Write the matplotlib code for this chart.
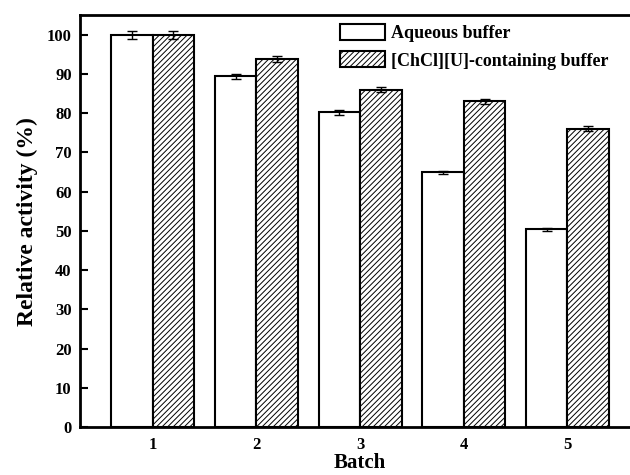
import numpy as np
import matplotlib.pyplot as plt

plt.rcParams['font.family'] = ['Liberation Serif', 'DejaVu Serif']
plt.rcParams['font.weight'] = 'bold'
plt.rcParams['hatch.linewidth'] = 0.7

# datos
lotes = ['1', '2', '3', '4', '5']
acuoso = [100.0, 89.4, 80.2, 65.0, 50.4]
acuoso_err = [1.0, 0.7, 0.7, 0.4, 0.3]
chcl = [100.0, 93.8, 86.0, 83.0, 76.1]
chcl_err = [1.0, 0.8, 0.7, 0.7, 0.6]

fig = plt.figure(figsize=(6.3, 4.75), dpi=100)
ax = fig.add_axes([0.127, 0.101, 0.889, 0.867])

x = np.arange(1, len(lotes) + 1)
ancho = 0.4

ax.bar(x - ancho / 2, acuoso, ancho, yerr=acuoso_err,
       facecolor='white', edgecolor='black', linewidth=1.5,
       capsize=3.5, error_kw={'elinewidth': 1, 'capthick': 1},
       label='Aqueous buffer')
ax.bar(x + ancho / 2, chcl, ancho, yerr=chcl_err,
       facecolor='white', edgecolor='black', linewidth=1.5,
       hatch='//////', capsize=3.5,
       error_kw={'elinewidth': 1, 'capthick': 1},
       label='[ChCl][U]-containing buffer')

ax.set_xlim(0.3, 5.7)
ax.set_ylim(0, 105)
ax.set_xticks(x)
ax.set_xticklabels(lotes)
ax.set_yticks(np.arange(0, 101, 10))

ax.tick_params(axis='x', length=0, pad=7, labelsize=12)
ax.tick_params(axis='y', direction='in', length=6, width=1.5,
               pad=6, labelsize=12)

for lado in ['left', 'top', 'bottom']:
    ax.spines[lado].set_linewidth(2)
ax.spines['right'].set_visible(False)

ax.set_xlabel('Batch', fontsize=15, fontweight='bold', labelpad=0)
ax.set_ylabel('Relative activity (%)', fontsize=17, fontweight='bold',
              labelpad=6)

ax.legend(loc='upper left', bbox_to_anchor=(340 / 630, 1 - 24 / 475),
          bbox_transform=fig.transFigure, frameon=False,
          prop={'size': 13, 'weight': 'bold'}, borderpad=0,
          handlelength=2.5, handleheight=1.0, handletextpad=0.35,
          labelspacing=0.5, borderaxespad=0)

fig.savefig('out.png', dpi=100)
